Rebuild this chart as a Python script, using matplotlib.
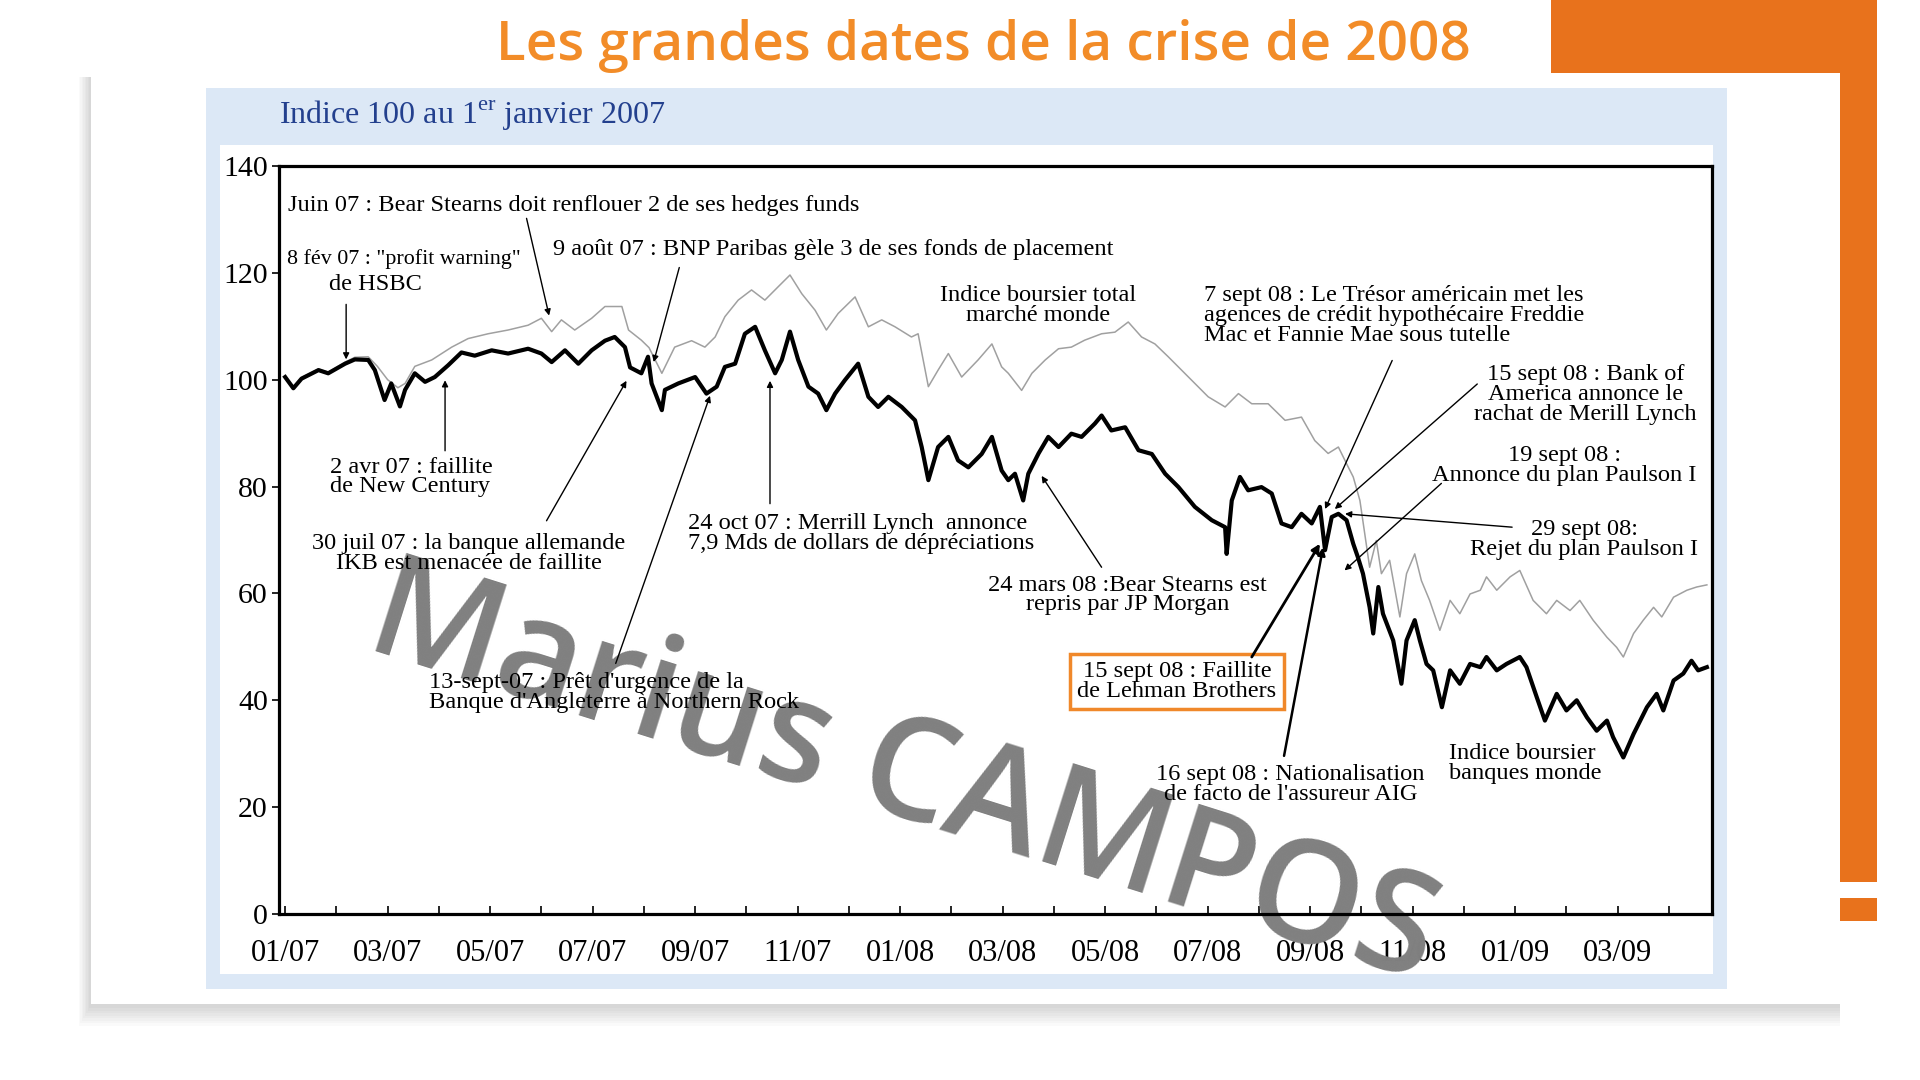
import matplotlib.pyplot as plt
from matplotlib.patches import Rectangle

plt.rcParams['mathtext.fontset'] = 'custom'
plt.rcParams['mathtext.rm'] = 'Liberation Serif'

# months since 1 Jan 2007 / index (100 = 1 Jan 2007)

# indice boursier banques monde (black)
bank_months = [0.00, 0.16, 0.32, 0.65, 0.84, 1.17, 1.36, 1.62, 1.75, 1.94, 2.07, 2.24, 2.34, 2.53, 2.73,
               2.92, 3.18, 3.44, 3.70, 4.03, 4.35, 4.74, 5.00, 5.20, 5.46, 5.72, 5.98, 6.24, 6.43, 6.63,
               6.73, 6.95, 7.08, 7.15, 7.35, 7.41, 7.67, 8.00, 8.22, 8.42, 8.58, 8.78, 8.97, 9.17, 9.36,
               9.56, 9.69, 9.85, 10.01, 10.21, 10.40, 10.56, 10.73, 10.92, 11.18, 11.38, 11.57, 11.77,
               12.03, 12.29, 12.42, 12.55, 12.74, 12.94, 13.13, 13.33, 13.59, 13.79, 13.98, 14.11, 14.24,
               14.40, 14.50, 14.70, 14.89, 15.09, 15.34, 15.54, 15.80, 15.93, 16.12, 16.39, 16.65, 16.91,
               17.17, 17.43, 17.75, 18.08, 18.34, 18.37, 18.47, 18.63, 18.79, 19.05, 19.25, 19.44, 19.64,
               19.83, 20.03, 20.19, 20.29, 20.42, 20.55, 20.71, 20.84, 20.93, 21.03, 21.16, 21.23, 21.33,
               21.42, 21.62, 21.78, 21.88, 22.04, 22.14, 22.27, 22.40, 22.57, 22.73, 22.92, 23.12, 23.32,
               23.44, 23.64, 23.83, 24.09, 24.22, 24.42, 24.58, 24.81, 25.00, 25.20, 25.40, 25.59, 25.79,
               25.91, 26.11, 26.31, 26.57, 26.76, 26.89, 27.09, 27.28, 27.44, 27.57, 27.74]
bank_index = [100.5, 98.4, 100.2, 101.8, 101.2, 103.0, 103.8, 103.7, 101.8, 96.2, 99.3, 95.0, 98.1, 101.2, 99.6,
              100.5, 102.7, 105.1, 104.5, 105.5, 104.9, 105.8, 104.9, 103.3, 105.5, 103.0, 105.5, 107.3, 108.0, 106.1,
              102.3, 101.2, 104.3, 99.3, 94.3, 98.1, 99.3, 100.5, 97.4, 98.7, 102.4, 103.0, 108.6, 109.9, 105.5,
              101.2, 103.7, 109.0, 103.7, 98.7, 97.4, 94.3, 97.4, 99.9, 103.0, 96.8, 94.9, 96.8,
              94.9, 92.4, 87.4, 81.2, 87.4, 89.3, 84.9, 83.6, 86.1, 89.3, 83.0, 81.2, 82.4,
              77.4, 82.4, 86.2, 89.3, 87.4, 89.9, 89.3, 91.8, 93.3, 90.5, 91.1, 86.8, 86.1,
              82.4, 79.9, 76.2, 73.7, 72.4, 67.4, 77.4, 81.8, 79.3, 79.9, 78.7, 73.1, 72.4,
              74.9, 73.1, 76.2, 68.1, 74.3, 74.9, 73.7, 69.3, 66.8, 63.7, 57.4, 52.5, 61.2,
              56.2, 51.2, 43.1, 51.2, 55.0, 51.2, 46.8, 45.6, 38.7, 45.6, 43.1, 46.8, 46.2,
              48.1, 45.6, 46.8, 48.1, 46.2, 40.6, 36.2, 41.2, 38.1, 40.0, 36.8, 34.3, 36.2,
              33.1, 29.3, 33.7, 38.7, 41.2, 38.1, 43.7, 45.0, 47.4, 45.6, 46.2]

# indice boursier total marche monde (grey)
world_months = [0.00, 0.16, 0.32, 0.65, 0.84, 1.17, 1.36, 1.62, 1.80, 2.00, 2.20, 2.34, 2.53, 2.86, 3.25,
                3.57, 3.96, 4.35, 4.74, 5.00, 5.20, 5.39, 5.65, 5.98, 6.24, 6.57, 6.70, 6.95, 7.10, 7.35,
                7.60, 7.93, 8.19, 8.39, 8.58, 8.84, 9.10, 9.36, 9.62, 9.85, 10.08, 10.34, 10.56, 10.79,
                11.12, 11.38, 11.64, 11.90, 12.22, 12.35, 12.55, 12.74, 12.94, 13.20, 13.52, 13.79, 13.98,
                14.11, 14.37, 14.57, 14.83, 15.09, 15.34, 15.60, 15.93, 16.19, 16.45, 16.71, 16.97, 17.23,
                17.49, 17.75, 18.01, 18.34, 18.60, 18.86, 19.18, 19.51, 19.83, 20.09, 20.35, 20.55, 20.74,
                20.84, 20.97, 21.16, 21.29, 21.39, 21.55, 21.75, 21.88, 22.04, 22.17, 22.33, 22.53, 22.73,
                22.92, 23.12, 23.32, 23.44, 23.64, 23.90, 24.09, 24.35, 24.61, 24.81, 25.07, 25.26, 25.52,
                25.79, 25.98, 26.11, 26.31, 26.50, 26.70, 26.86, 27.09, 27.35, 27.54, 27.74]
world_index = [100.5, 98.6, 100.4, 102.0, 101.4, 103.3, 104.2, 104.3, 102.5, 100.0, 98.5, 99.3, 102.5, 103.7, 106.1,
               107.7, 108.6, 109.3, 110.2, 111.5, 109.0, 111.2, 109.3, 111.5, 113.7, 113.7, 109.3, 107.4, 106.0, 101.2,
               106.1, 107.3, 106.1, 108.0, 111.8, 114.9, 116.8, 114.9, 117.4, 119.6, 116.1, 113.0, 109.3, 112.4,
               115.5, 109.9, 111.2, 109.9, 108.0, 108.6, 98.7, 101.8, 104.9, 100.5, 103.7, 106.7, 102.4,
               101.2, 98.0, 101.2, 103.7, 105.8, 106.1, 107.4, 108.6, 108.9, 110.8, 108.0, 106.7, 104.3,
               101.8, 99.3, 96.8, 94.9, 97.4, 95.5, 95.5, 92.4, 93.0, 88.6, 86.2, 87.4, 83.7,
               81.8, 77.4, 64.9, 69.9, 63.7, 66.2, 55.6, 63.7, 67.4, 62.4, 58.7, 53.1, 58.7,
               56.2, 59.9, 60.6, 63.1, 60.6, 63.1, 64.3, 58.7, 56.2, 58.7, 56.8, 58.7, 55.0,
               51.8, 49.9, 48.1, 52.5, 55.0, 57.4, 55.6, 59.3, 60.6, 61.2, 61.6]

label_months = [0, 2, 4, 6, 8, 10, 12, 14, 16, 18, 20, 22, 24, 26]
month_labels = ['01/07', '03/07', '05/07', '07/07', '09/07', '11/07', '01/08', '03/08',
                '05/08', '07/08', '09/08', '11/08', '01/09', '03/09']

W, H = 1920, 1080
ORANGE = '#E8721C'
SERIF = 'Liberation Serif'

fig = plt.figure(figsize=(W / 100, H / 100), dpi=100)


def box(x0, y0, x1, y1, **kw):
    # rectangle given in pixels, origin top left, drawn behind the axes
    r = Rectangle((x0 / W, 1 - y1 / H), (x1 - x0) / W, (y1 - y0) / H,
                  transform=fig.transFigure, lw=0, zorder=-5, **kw)
    fig.add_artist(r)
    return r


# slide background
box(1551, 0, 1877, 882, fc=ORANGE)
box(1840, 898, 1877, 921, fc=ORANGE)
for i in range(8):
    box(91 - 2 - i * 1.5, 73 + 4, 1840, 1004 + 4 + i * 2.5, fc='black', alpha=0.018)
box(91, 73, 1840, 1004, fc='white')
box(206, 88, 1727, 989, fc='#DCE8F6')
box(220, 145, 1713, 974, fc='white')

fig.text(983 / W, 1 - 46 / H, 'Les grandes dates de la crise de 2008', ha='center', va='center',
         fontsize=39.5, color='#F28C28', family='Open Sans', fontweight='semibold')
fig.text(279 / W, 1 - 116 / H, r'Indice 100 au 1$^{\mathrm{er}}$ janvier 2007', ha='left', va='center',
         fontsize=23, color='#23408E', family=SERIF)

ax = fig.add_axes([279 / W, 1 - 914 / H, (1712 - 279) / W, (914 - 166) / H])
ax.set_facecolor('white')
ax.plot(world_months, world_index, color='#a0a0a0', lw=1.1, zorder=1.5)
ax.plot(bank_months, bank_index, color='black', lw=3.0, zorder=2)

ax.set_xlim(-0.12, 27.84)
ax.set_ylim(0, 140)
ax.set_yticks(range(0, 141, 20))
ax.set_xticks(label_months)
ax.set_xticklabels(month_labels)
ax.set_xticks(range(0, 28), minor=True)
ax.tick_params(axis='x', which='both', direction='in', length=6, width=1.2, pad=18,
               labelsize=22, top=False)
ax.tick_params(axis='y', direction='out', length=5, width=1.2, pad=3, labelsize=21.5)
for lab in ax.get_xticklabels() + ax.get_yticklabels():
    lab.set_family(SERIF)
for s in ax.spines.values():
    s.set_linewidth(2.3)

TXT = dict(family=SERIF, fontsize=17.6, color='black', linespacing=0.92, zorder=3)


def note(x, y, text, ha='left', **kw):
    opts = dict(TXT)
    opts.update(kw)
    ax.text(x, y, text, ha=ha, va='center', multialignment=ha, **opts)


def arrow(start, end, lw=1.0, head=9):
    ax.annotate('', xy=end, xytext=start, zorder=3,
                arrowprops=dict(arrowstyle='-|>', color='black', lw=lw, mutation_scale=head,
                                shrinkA=0, shrinkB=0))


note(0.05, 132.7, 'Juin 07 : Bear Stearns doit renflouer 2 de ses hedges funds')
arrow((4.71, 130.2), (5.15, 112.0))

note(2.32, 122.6, '8 fév 07 : "profit warning"', ha='center', fontsize=15.8)
note(1.77, 117.8, 'de HSBC', ha='center')
arrow((1.19, 114.1), (1.19, 103.8))

note(5.23, 124.4, '9 août 07 : BNP Paribas gèle 3 de ses fonds de placement')
arrow((7.69, 121.0), (7.19, 103.3))

note(14.70, 113.9, 'Indice boursier total\nmarché monde', ha='center')

note(17.92, 112.0, '7 sept 08 : Le Trésor américain met les\nagences de crédit hypothécaire Freddie\n'
     'Mac et Fannie Mae sous tutelle')
arrow((21.6, 103.6), (20.29, 75.8))

note(25.37, 97.2, '15 sept 08 : Bank of\nAmerica annonce le\nrachat de Merill Lynch', ha='center')
arrow((23.26, 99.2), (20.48, 75.8))

note(24.96, 83.9, '19 sept 08 :\nAnnonce du plan Paulson I', ha='center')
arrow((22.56, 80.6), (20.67, 64.3))

note(25.35, 70.1, '29 sept 08:\nRejet du plan Paulson I', ha='center')
arrow((23.94, 72.4), (20.68, 74.9))

note(0.88, 81.8, '2 avr 07 : faillite\nde New Century')
arrow((3.12, 86.7), (3.12, 99.9))

note(3.58, 67.5, '30 juil 07 : la banque allemande\nIKB est menacée de faillite', ha='center')
arrow((5.10, 73.6), (6.66, 99.8))

note(7.86, 71.2, '24 oct 07 : Merrill Lynch  annonce\n7,9 Mds de dollars de dépréciations')
arrow((9.46, 76.8), (9.46, 99.8))

note(2.80, 41.5, "13-sept-07 : Prêt d'urgence de la\nBanque d'Angleterre à Northern Rock")
arrow((6.45, 46.9), (8.29, 97.0))

note(16.44, 59.7, '24 mars 08 :Bear Stearns est\nrepris par JP Morgan', ha='center')
arrow((15.93, 64.9), (14.76, 82.0))

note(17.40, 43.5, '15 sept 08 : Faillite\nde Lehman Brothers', ha='center',
     bbox=dict(boxstyle='square,pad=0.3', fc='white', ec='#F0882A', lw=2.5))
arrow((18.86, 48.1), (20.19, 69.3), lw=2.0, head=12)

note(19.62, 24.3, "16 sept 08 : Nationalisation\nde facto de l'assureur AIG", ha='center')
arrow((19.49, 29.6), (20.25, 68.6), lw=1.8, head=11)

note(22.70, 28.2, 'Indice boursier\nbanques monde')

# watermark
ax.text(903 / W, 1 - 779 / H, 'Marius CAMPOS', transform=fig.transFigure, rotation=-17.5,
        rotation_mode='anchor', ha='center', va='center', fontsize=103, color='#808080',
        family='Open Sans', fontweight='semibold', zorder=2.2, clip_on=False)

fig.savefig('out.png', dpi=100)
